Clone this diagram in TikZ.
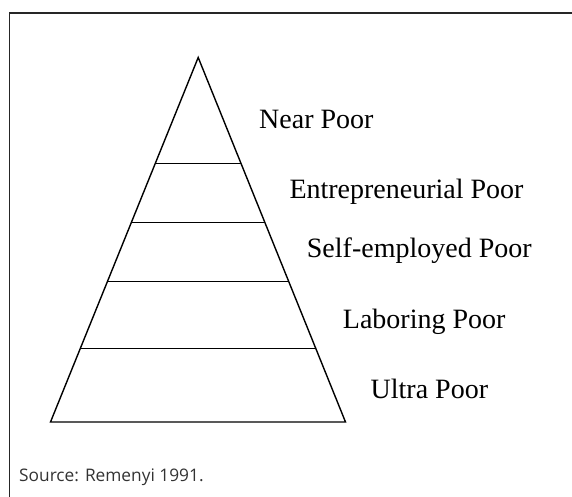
\documentclass[tikz,border=0pt]{standalone}
\usepackage{fontspec}
\setmainfont{Liberation Serif}
\newfontfamily\srcfont{Open Sans}
\usetikzlibrary{calc}
\begin{document}
\begin{tikzpicture}[x=1pt,y=-1pt,
  lbl/.style={anchor=base west,inner sep=0pt,font=\fontsize{28}{34}\selectfont},
  src/.style={anchor=base west,inner sep=0pt,text=black!80,font=\srcfont\fontsize{17.3}{20}\selectfont},
  tri/.style={line width=1.4pt,line join=miter},
  band/.style={line width=1.4pt},
  frame/.style={line width=1.6pt,black!85}]
\useasboundingbox (0,0) rectangle (572,497);
% frame (top and left)
\coordinate (fbl) at (9.5,497);
\coordinate (ftl) at (9.5,13);
\coordinate (ftr) at (572,13);
\draw[frame] (fbl) -- (ftl) -- (ftr);
% pyramid
\coordinate (apex) at (198.2,57.5);
\coordinate (bl) at (50.5,422);
\coordinate (br) at (345.5,422);
\draw[tri] (bl) -- (apex) -- (br) -- cycle;
\coordinate (la) at ($(apex)!0.2908!(bl)$);
\coordinate (ra) at ($(apex)!0.2908!(br)$);
\coordinate (lb) at ($(apex)!0.4527!(bl)$);
\coordinate (rb) at ($(apex)!0.4527!(br)$);
\coordinate (lc) at ($(apex)!0.6145!(bl)$);
\coordinate (rc) at ($(apex)!0.6145!(br)$);
\coordinate (ld) at ($(apex)!0.7984!(bl)$);
\coordinate (rd) at ($(apex)!0.7984!(br)$);
\draw[band] (la) -- (ra);
\draw[band] (lb) -- (rb);
\draw[band] (lc) -- (rc);
\draw[band] (ld) -- (rd);
% labels
\node[lbl] (near) at (259,129) {Near Poor};
\node[lbl] (entr) at (289.3,198.3) {Entrepreneurial Poor};
\node[lbl] (self) at (306.7,257.7) {Self-employed Poor};
\node[lbl] (labo) at (342.7,328.3) {Laboring Poor};
\node[lbl] (ultr) at (370.5,398.3) {Ultra Poor};
\node[src] (source) at (19,481.7) {Source: Remenyi 1991.};
\end{tikzpicture}
\end{document}
